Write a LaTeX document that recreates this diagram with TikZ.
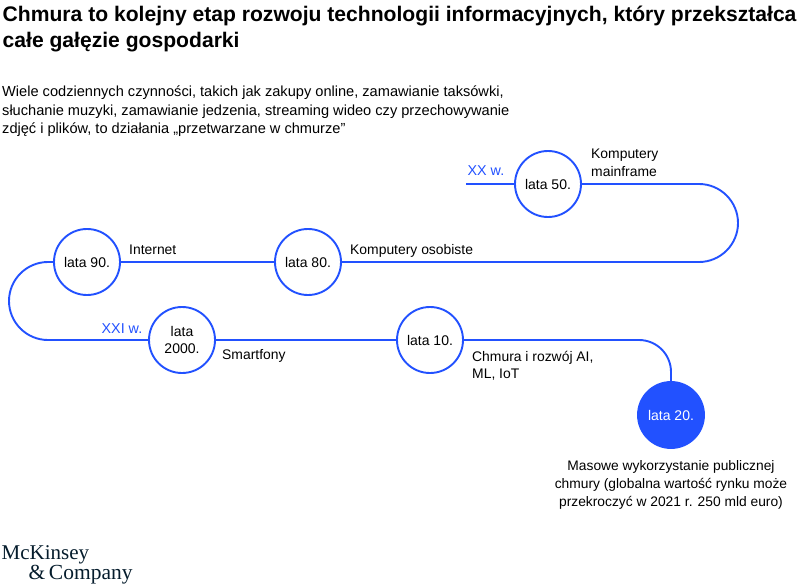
\documentclass[tikz,border=0pt]{standalone}
\usepackage{fontspec}
\setmainfont{Liberation Sans}
\newfontfamily\logofont{Liberation Serif}
\definecolor{mckblue}{HTML}{2251FF}
\definecolor{mcknavy}{HTML}{051C2C}
\tikzset{
  era/.style={circle,draw=mckblue,line width=1.9pt,fill=white,minimum size=66pt,inner sep=0pt,align=center,font=\fontsize{14}{17.5}\selectfont,text=black},
  eranow/.style={era,fill=mckblue,text=white},
  link/.style={draw=mckblue,line width=1.9pt},
  lab/.style={anchor=base west,inner sep=0pt,align=left,font=\fontsize{13.9}{17.5}\selectfont,text=black},
  cent/.style={anchor=base west,inner sep=0pt,font=\fontsize{14.3}{16}\selectfont,text=mckblue},
  headline/.style={anchor=base west,inner sep=0pt,font=\fontsize{21.1}{24}\selectfont\bfseries,text=black},
  intro/.style={anchor=base west,inner sep=0pt,font=\fontsize{14.6}{18}\selectfont,text=black},
  logo/.style={anchor=base west,inner sep=0pt,font=\logofont\fontsize{21}{20}\selectfont,text=mcknavy}
}
\begin{document}
\begin{tikzpicture}[x=1pt,y=-1pt]
\useasboundingbox (0,0) rectangle (805,586);
\node[headline] (t1) at (2.5,21.5) {Chmura to kolejny etap rozwoju technologii informacyjnych, który przekształca};
\node[headline] (t2) at (2.5,47.5) {całe gałęzie gospodarki};
\node[intro] (i1) at (2,96) {Wiele codziennych czynności, takich jak zakupy online, zamawianie taksówki,};
\node[intro] (i2) at (2,115) {słuchanie muzyki, zamawianie jedzenia, streaming wideo czy przechowywanie};
\node[intro] (i3) at (2,133.5) {zdjęć i plików, to działania „przetwarzane w chmurze”};

\coordinate (start) at (466,184);
\node[era] (c50) at (548,184) {lata 50.};
\node[era] (c80) at (308,262) {lata 80.};
\node[era] (c90) at (87,262) {lata 90.};
\node[era] (c00) at (182,340) {lata\\2000.};
\node[era] (c10) at (430,340) {lata 10.};
\node[eranow] (c20) at (671,415) {lata 20.};

\draw[link] (start) -- (c50.west);
\draw[link] (c50.east) -- (699,184) .. controls (720.5,184) and (738,201.5) .. (738,223) .. controls (738,244.5) and (720.5,262) .. (699,262) -- (c80.east);
\draw[link] (c80.west) -- (c90.east);
\draw[link] (c90.west) -- (48,262) .. controls (26.5,262) and (9,279.5) .. (9,301) .. controls (9,322.5) and (26.5,340) .. (48,340) -- (c00.west);
\draw[link] (c00.east) -- (c10.west);
\draw[link] (c10.east) -- (639,340) .. controls (656.7,340) and (671,354.3) .. (671,372) -- (c20.north);

\node[cent] (xx) at (467.5,175) {XX w.};
\node[cent] (xxi) at (101.5,333) {XXI w.};
\node[lab] (l50a) at (591,158) {Komputery};
\node[lab] (l50b) at (591,176) {mainframe};
\node[lab] (l80) at (350,254) {Komputery osobiste};
\node[lab] (l90) at (129,254) {Internet};
\node[lab] (l00) at (222,359) {Smartfony};
\node[lab] (l10a) at (472,361) {Chmura i rozwój AI,};
\node[lab] (l10b) at (472,378) {ML, IoT};
\node[anchor=north,inner sep=0pt,align=center,font=\fontsize{13.8}{18.2}\selectfont] (l20) at (671,460) {Masowe wykorzystanie publicznej\\chmury (globalna wartość rynku może\\przekroczyć w 2021 r. 250 mld euro)};

\node[logo] (m1) at (1.5,559.5) {McKinsey};
\node[logo,font=\logofont\fontsize{21.5}{20}\selectfont] (m2) at (28.5,579) {\&\,Company};
\end{tikzpicture}
\end{document}
